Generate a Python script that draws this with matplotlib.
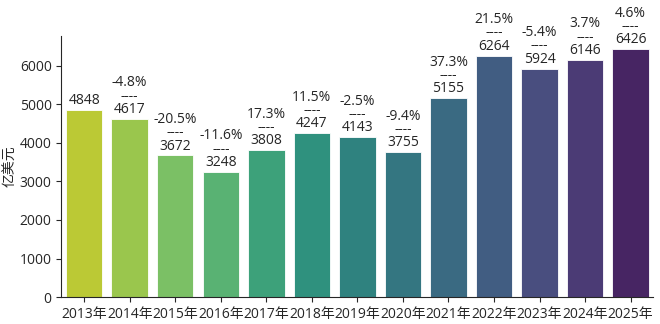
import numpy as np
import matplotlib
matplotlib.use("Agg")
import matplotlib.pyplot as plt
import seaborn as sns

years = ["2013年", "2014年", "2015年", "2016年", "2017年", "2018年", "2019年",
         "2020年", "2021年", "2022年", "2023年", "2024年", "2025年"]
values = [4848, 4617, 3672, 3248, 3808, 4247, 4143, 3755, 5155, 6264, 5924, 6146, 6426]
growth = [None, "-4.8%", "-20.5%", "-11.6%", "17.3%", "11.5%", "-2.5%",
          "-9.4%", "37.3%", "21.5%", "-5.4%", "3.7%", "4.6%"]

sns.set_style("ticks")
plt.rcParams['font.family'] = ['Open Sans', 'Noto Sans CJK SC']

fig, ax = plt.subplots(figsize=(6.6, 3.24), dpi=100)
# seaborn barplot style: viridis_r desaturated to 0.75
colors = [sns.desaturate(c, 0.75) for c in sns.color_palette("viridis_r", len(years))]
x = np.arange(len(years))
ax.bar(x, values, width=0.8, color=colors, edgecolor="white", linewidth=0.6)

for i, v in enumerate(values):
    if growth[i] is None:
        txt = f"{v}"
    else:
        txt = f"{growth[i]}\n----\n{v}"
    ax.text(i, v + 50, txt, ha="center", va="bottom", fontsize=10, linespacing=0.85)

ax.set_xticks(x)
ax.set_xticklabels(years, fontsize=10)
ax.tick_params(axis="y", labelsize=10)
ax.set_xlim(-0.5, len(years) - 0.5)
ax.set_ylim(0, 6780)
ax.set_yticks([0, 1000, 2000, 3000, 4000, 5000, 6000])
ax.set_ylabel("亿美元", fontsize=10, labelpad=1)
sns.despine(ax=ax)

fig.subplots_adjust(left=0.093, right=0.99, top=0.89, bottom=0.083)
fig.savefig("out.png", dpi=100)
